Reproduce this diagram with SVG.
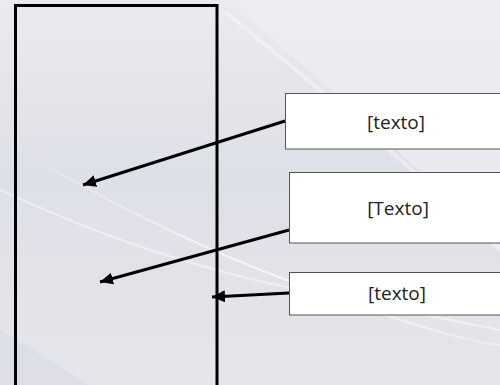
<svg xmlns="http://www.w3.org/2000/svg" width="500" height="385" viewBox="0 0 500 385">
<defs>
<linearGradient id="bg" x1="0" y1="0" x2="0" y2="1">
<stop offset="0" stop-color="#eaebef"/>
<stop offset="0.45" stop-color="#dee0e7"/>
<stop offset="1" stop-color="#e5e6eb"/>
</linearGradient>
<linearGradient id="lite" x1="0" y1="0" x2="1" y2="0">
<stop offset="0" stop-color="#ffffff" stop-opacity="0"/>
<stop offset="0.5" stop-color="#ffffff" stop-opacity="0.7"/>
<stop offset="1" stop-color="#ffffff" stop-opacity="0.3"/>
</linearGradient>
<marker id="ah" markerUnits="userSpaceOnUse" markerWidth="14" markerHeight="12" viewBox="0 0 14 12" refX="13" refY="6" orient="auto">
<path d="M0,0 L13,6 L0,12 Z" fill="#000"/>
</marker>
<style>
.box{fill:#fff;stroke:#555;stroke-width:1}
.lbl{font-family:"Open Sans","Liberation Sans",sans-serif;font-size:19px;fill:#222;text-anchor:middle}
.conn{stroke:#000;stroke-width:3;fill:none;marker-end:url(#ah)}
</style>
</defs>
<rect x="0" y="0" width="500" height="385" fill="url(#bg)"/>
<path d="M225,0 Q360,110 500,250 L500,0 Z" fill="#eceef2" opacity="0.7"/>
<path d="M225,12 Q360,120 500,250" stroke="#fff" stroke-width="4" fill="none" opacity="0.35"/>
<path d="M0,138 Q150,230 300,285 T500,345" stroke="url(#lite)" stroke-width="2" fill="none"/>
<path d="M0,190 Q150,260 300,290 T500,330" stroke="#fff" stroke-width="2" fill="none" opacity="0.45"/>
<path d="M0,330 L0,385 L90,385 Z" fill="#d9dbe3" opacity="0.6"/>
<g id="main">
<rect x="15.5" y="5.5" width="201.5" height="381" fill="none" stroke="#000" stroke-width="3"/>
</g>
<g id="box1">
<rect class="box" x="285.5" y="93.5" width="220" height="55.5"/>
<text class="lbl" x="396" y="129">[texto]</text>
</g>
<g id="box2">
<rect class="box" x="289.5" y="172.5" width="220" height="70.5"/>
<text class="lbl" x="398" y="215">[Texto]</text>
</g>
<g id="box3">
<rect class="box" x="289.5" y="272.5" width="220" height="42.5"/>
<text class="lbl" x="397" y="300">[texto]</text>
</g>
<g id="connectors">
<line class="conn" x1="285" y1="121" x2="83" y2="185"/>
<line class="conn" x1="289" y1="230" x2="100" y2="282"/>
<line class="conn" x1="289" y1="293" x2="212" y2="297"/>
</g>
</svg>
